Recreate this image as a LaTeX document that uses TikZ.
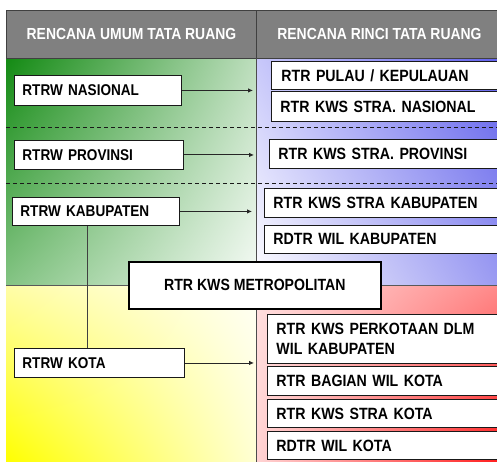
\documentclass[tikz,border=0pt]{standalone}
\usepackage{fontspec}
\setmainfont{Liberation Sans}
\newfontfamily\condfont[FakeStretch=0.87]{Liberation Sans}
\usetikzlibrary{arrows.meta,shadings}
\definecolor{hdr}{HTML}{808080}
\definecolor{hdrline}{HTML}{404040}
\definecolor{gUL}{HTML}{138A13}
\definecolor{gUR}{HTML}{BDDEBD}
\definecolor{gLL}{HTML}{84C484}
\definecolor{gLR}{HTML}{F6FBF6}
\definecolor{yUL}{HTML}{FFFDA8}
\definecolor{yUR}{HTML}{FFFFF6}
\definecolor{yLL}{HTML}{FFFF00}
\definecolor{yLR}{HTML}{FFFFD4}
\definecolor{bUL}{HTML}{C8C8FA}
\definecolor{bUR}{HTML}{6262EC}
\definecolor{bLL}{HTML}{FFFFFF}
\definecolor{bLR}{HTML}{9C9CF2}
\definecolor{rUL}{HTML}{FFE0E0}
\definecolor{rUR}{HTML}{FF8A8A}
\definecolor{rLL}{HTML}{FFD4D4}
\definecolor{rLR}{HTML}{FF2020}
\begin{document}
\begin{tikzpicture}[x=1pt,y=-1pt,
  box/.style={draw=black!90, fill=white, line width=0.9pt, anchor=north west,
    inner ysep=0pt, align=left},
  lbox/.style={box, inner xsep=8pt, font=\condfont\fontsize{15.6}{18}\selectfont\bfseries},
  rbox/.style={box, inner xsep=9pt, text width=216pt, font=\condfont\fontsize{16.3}{20}\selectfont\bfseries},
  mbox/.style={draw=black, fill=white, line width=1.7pt, anchor=north west, inner sep=0pt,
    align=center, font=\condfont\fontsize{16.2}{18}\selectfont\bfseries},
  hbox/.style={fill=hdr, draw=hdrline, line width=0.9pt, anchor=north west, inner sep=0pt,
    text=white, font=\condfont\fontsize{16}{18}\selectfont\bfseries},
  sep/.style={dash pattern=on 4pt off 3pt, line width=0.9pt, draw=black!90},
  arr/.style={-{Latex[length=5pt,width=4.5pt]}, line width=0.9pt, draw=black!85},
  link/.style={line width=0.9pt, draw=black!75}]
\useasboundingbox (0,0) rectangle (497,462);
\clip (0,0) rectangle (497,462);
% backgrounds
\shade[upper left=gUL, upper right=gUR, lower left=gLL, lower right=gLR] (6,58) rectangle (256,285);
\shade[upper left=yUL, upper right=yUR, lower left=yLL, lower right=yLR] (6,285) rectangle (256,462);
\shade[upper left=bUL, upper right=bUR, lower left=bLL, lower right=bLR] (256,58) rectangle (497,286);
\shade[upper left=rUL, upper right=rUR, lower left=rLL, lower right=rLR] (256,286) rectangle (497,462);
% header
\node[hbox, minimum width=250pt, minimum height=48pt] (hl) at (6,10) {RENCANA UMUM TATA RUANG};
\node[hbox, minimum width=246pt, minimum height=48pt] (hr) at (256,10) {RENCANA RINCI TATA RUANG};
% dividers
\draw[line width=0.9pt, draw=black!70] (256,58) -- (256,462);
\draw[line width=0.9pt, draw=black!65] (6,285) -- (497,285);
\draw[sep] (6,127) -- (497,127);
\draw[sep] (6,183) -- (497,183);
% left boxes
\node[lbox, text width=151pt, minimum height=30pt] (nas) at (14,75) {RTRW NASIONAL};
\node[lbox, text width=153pt, minimum height=29pt] (prov) at (14,140) {RTRW PROVINSI};
\node[lbox, text width=151pt, minimum height=28pt] (kab) at (12,197) {RTRW KABUPATEN};
\node[lbox, text width=154pt, minimum height=29pt] (kota) at (14,348) {RTRW KOTA};
% metropolitan
\node[mbox, minimum width=252pt, minimum height=47pt] (metro) at (128,261) {RTR KWS METROPOLITAN};
% right boxes
\node[rbox, minimum height=28pt] (pulau) at (271,61) {\hspace{1pt}RTR PULAU / KEPULAUAN};
\node[rbox, minimum height=30pt] (ksnas) at (271,91) {RTR KWS STRA. NASIONAL};
\node[rbox, minimum height=29pt] (ksprov) at (269,139) {RTR KWS STRA. PROVINSI};
\node[rbox, minimum height=29pt] (kskab) at (264,188) {RTR KWS STRA KABUPATEN};
\node[rbox, minimum height=28pt] (rdtrkab) at (264,225) {RDTR WIL KABUPATEN};
\node[rbox, minimum height=49pt] (perkot) at (267,314) {RTR KWS PERKOTAAN DLM\\WIL KABUPATEN};
\node[rbox, minimum height=29pt] (bagian) at (267,366) {RTR BAGIAN WIL KOTA};
\node[rbox, minimum height=28pt] (kskota) at (267,399) {RTR KWS STRA KOTA};
\node[rbox, minimum height=28pt] (rdtrkota) at (267,431) {RDTR WIL KOTA};
% connectors
\coordinate (ea) at (253,0);
\coordinate (eb) at (254,0);
\coordinate (ec) at (252,0);
\coordinate (vx) at (87,0);
\draw[arr] (nas.east) -- (nas.east -| ea);
\draw[arr] (prov.east) -- (prov.east -| eb);
\draw[arr] (kab.east) -- (kab.east -| ec);
\draw[arr] (kota.east) -- (kota.east -| eb);
\draw[link] (kab.south -| vx) -- (kota.north -| vx);
\end{tikzpicture}
\end{document}
